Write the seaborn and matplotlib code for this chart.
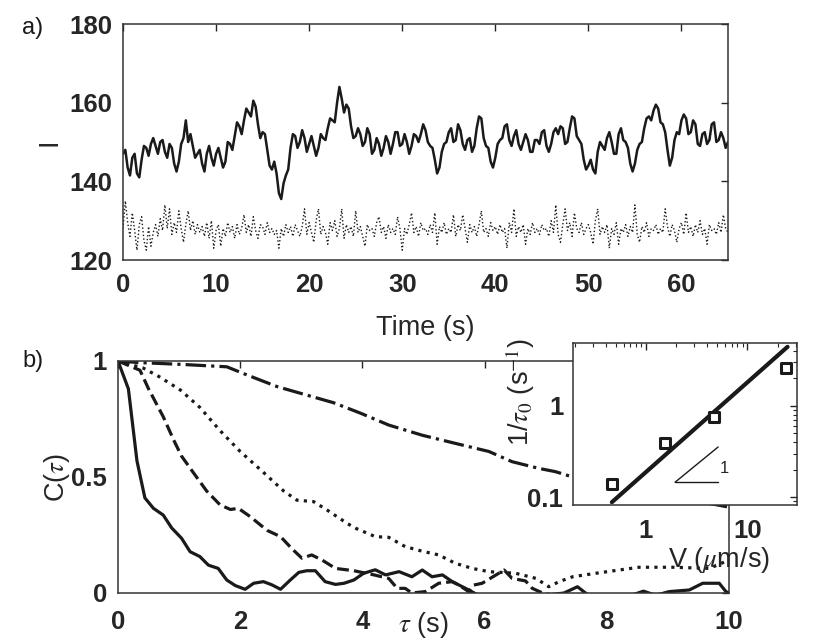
import numpy as np
import pandas as pd
import matplotlib
matplotlib.use('Agg')
import matplotlib.pyplot as plt
import seaborn as sns
from matplotlib.ticker import LogLocator, FuncFormatter, NullFormatter, FixedLocator

# ---- panel a: intensity traces (0.25 s sampling) ----
i_solid = [
    147, 148, 143.5, 141.5, 146, 147, 142, 141, 145.5, 149,
    148.5, 146.5, 149.5, 151, 149, 147, 150, 150.5, 147.5, 146,
    149.5, 148.5, 144.5, 142.5, 145, 149.5, 151, 155.5, 150, 152,
    149, 146, 147, 148, 144.5, 142.5, 147, 149, 146, 144,
    147, 148.5, 146, 143.5, 145, 150, 149.5, 148, 151.5, 155,
    154, 152, 155.5, 158.5, 157.5, 156.5, 160.5, 159, 154.5, 151,
    152.5, 152, 148, 144, 143, 145, 142, 137, 135.5, 139.5,
    141.5, 143, 148.5, 152, 151.5, 148.5, 150, 153, 151, 147.5,
    149.5, 151.5, 149, 146.5, 148.5, 152, 151, 150.5, 153.5, 156,
    155.5, 155, 160, 164, 161, 157.5, 159.5, 158.5, 154, 151,
    151.5, 153.5, 152, 149, 150, 153.5, 152, 147, 148, 151,
    149.5, 146.5, 148.5, 151.5, 150, 147, 149.5, 152.5, 152.5, 149,
    149.5, 152, 150, 147, 149, 152, 151.5, 150, 152, 154.5,
    153, 150, 149, 148.5, 145.5, 142, 143.5, 147.5, 149.5, 150,
    152.5, 153.5, 150, 150.5, 154.5, 153, 149.5, 148, 150.5, 151,
    147.5, 149, 153.5, 156.5, 156, 151, 149, 148.5, 145, 143.5,
    146, 149.5, 150.5, 151, 154, 154.5, 150.5, 149, 151.5, 153,
    149.5, 148, 150, 152, 150.5, 147.5, 147.5, 150.5, 150.5, 149.5,
    152.5, 153, 149, 147.5, 149.5, 152.5, 153.5, 152, 154, 153.5,
    149.5, 150, 153.5, 156.5, 156, 151.5, 150.5, 149.5, 145.5, 143,
    144, 145.5, 143, 142, 147.5, 150, 149, 148, 151, 152.5,
    150, 147, 147, 152, 153.5, 150.5, 150, 148.5, 144.5, 142.5,
    144.5, 148, 149.5, 150, 153.5, 156, 156.5, 155.5, 158, 159.5,
    158.5, 155, 154.5, 152.5, 148, 144, 146, 150.5, 152.5, 152,
    155.5, 157, 156, 152, 152.5, 155.5, 154.5, 149.5, 149, 152,
    152.5, 149.5, 150.5, 154.5, 155, 150, 150.5, 152.5, 151, 148.5,
    150,
]
i_dotted = [
    128, 135, 129.5, 126, 132, 127.5, 122.5, 129, 131, 125,
    122.5, 128.5, 123.5, 127, 129, 126, 130.5, 127.5, 134, 128,
    133, 126.5, 129.5, 127, 132.5, 128, 124.5, 129, 132.5, 127.5,
    130, 126.5, 129, 127, 128.5, 126, 129.5, 125.5, 130, 123,
    127.5, 129, 123.5, 128, 126, 129.5, 127, 128.5, 125.5, 129,
    126.5, 128, 131.5, 127, 129, 126, 131, 127.5, 125.5, 129,
    128.5, 126.5, 129.5, 127, 128, 126.5, 127.5, 123, 128, 126,
    129, 127, 128.5, 126, 129, 127.5, 126, 128.5, 133, 126.5,
    129.5, 127, 124.5, 130, 133, 126.5, 128.5, 127, 124, 129.5,
    127.5, 130, 126, 128, 133, 125.5, 129, 127, 128.5, 126,
    132.5, 127, 128.5, 126, 123.5, 129, 127.5, 128, 126, 129.5,
    131, 127, 128.5, 125.5, 129, 127, 128, 126.5, 131, 128,
    122.5, 128, 126.5, 129, 132, 127, 128.5, 126, 129.5, 127.5,
    128, 126.5, 129, 127, 132, 124, 128.5, 127, 129.5, 126.5,
    128, 127, 131.5, 126, 129, 127.5, 131.5, 128, 124.5, 129,
    127, 128.5, 126, 129, 132.5, 127, 128, 126, 129.5, 127.5,
    128.5, 126.5, 129, 127, 128, 123, 129.5, 127, 133, 126,
    128.5, 127, 129, 124, 128, 126.5, 129.5, 127, 128, 126.5,
    129, 127.5, 128, 126, 130, 127, 134, 126.5, 124.5, 129,
    133, 127.5, 129.5, 126, 132, 128, 127, 129.5, 126.5, 128,
    129, 127, 124, 130, 133, 126.5, 128.5, 127, 129, 123,
    128, 126.5, 129.5, 124, 128, 127, 129, 126, 128.5, 127,
    134, 126.5, 124.5, 128.5, 127, 129.5, 126, 128, 127.5, 129,
    126.5, 128, 127, 133, 128.5, 126, 129, 127.5, 124.5, 128,
    129.5, 126.5, 132, 127, 128.5, 126, 129, 127, 130, 126.5,
    128, 124, 129, 127.5, 128, 126.5, 129.5, 127, 131.5, 128,
    127,
]
t_a = np.linspace(0, 65, len(i_solid))

# ---- panel b: correlation functions ----
tau_solid = [0, 0.17, 0.31, 0.44, 0.58, 0.74, 0.88, 1.04, 1.18, 1.34, 1.48, 1.64, 1.78,
             1.92, 2.08, 2.22, 2.38, 2.52, 2.66, 2.82, 2.96, 3.09, 3.23, 3.39, 3.56, 3.7,
             3.86, 4.02, 4.21, 4.38, 4.6, 4.81, 4.98, 5.14, 5.31, 5.47, 5.69, 5.9, 6.2,
             6.6, 7.0, 7.3, 7.52, 7.7, 8.0, 8.4, 8.6, 8.8, 9.02, 9.35, 9.57, 9.84, 9.95, 10.0]
c_solid = [1, 0.88, 0.57, 0.41, 0.365, 0.336, 0.28, 0.236, 0.178, 0.157, 0.12, 0.106, 0.056,
           0.032, 0.016, 0.042, 0.049, 0.035, 0.016, 0.056, 0.089, 0.096, 0.096, 0.049, 0.037,
           0.042, 0.056, 0.085, 0.1, 0.078, 0.092, 0.07, 0.099, 0.07, 0.078, 0.049, 0.02,
           -0.01, -0.02, -0.02, -0.01, 0.0, 0.027, -0.01, -0.02, -0.01, 0.008, -0.01, 0.006,
           0.013, 0.042, 0.042, 0.006, 0.0]

tau_dash = [0, 0.36, 0.5, 0.74, 0.91, 1.04, 1.23, 1.45, 1.67, 1.84, 1.97, 2.16, 2.44, 2.66,
            2.85, 3.01, 3.17, 3.34, 3.56, 3.86, 4.19, 4.43, 4.57, 4.7, 4.81, 5.03, 5.25,
            5.47, 5.58, 5.74, 5.82, 5.96, 6.32, 6.45, 6.67, 6.78, 6.95, 7.3, 8.0, 9.0, 10.0]
c_dash = [1, 0.96, 0.88, 0.76, 0.66, 0.59, 0.52, 0.44, 0.38, 0.36, 0.365, 0.33, 0.27, 0.243,
          0.19, 0.15, 0.164, 0.142, 0.106, 0.096, 0.078, 0.063, 0.02, 0.02, 0.0, 0.006, 0.042,
          0.049, 0.034, 0.006, 0.034, 0.042, 0.099, 0.063, 0.052, 0.02, 0.0, -0.02, -0.02,
          -0.02, -0.02]

tau_dot = [0, 0.41, 0.69, 1.02, 1.34, 1.67, 2.0, 2.38, 2.71, 2.93, 3.2, 3.42, 3.75, 3.89,
           4.21, 4.43, 4.7, 4.98, 5.25, 5.52, 5.8, 6.07, 6.51, 6.84, 7.05, 7.22, 7.44, 7.82,
           8.2, 8.53, 9.08, 9.68, 10.0]
c_dot = [1, 0.97, 0.93, 0.875, 0.8, 0.70, 0.61, 0.52, 0.44, 0.40, 0.394, 0.358, 0.30, 0.279,
         0.243, 0.24, 0.2, 0.18, 0.164, 0.128, 0.106, 0.092, 0.085, 0.063, 0.027, 0.049, 0.07,
         0.085, 0.099, 0.111, 0.111, 0.106, 0.142]

tau_dashdot = [0, 0.36, 1.07, 1.78, 2.11, 2.6, 3.09, 3.53, 3.97, 4.43, 4.98, 5.52, 6.07,
               6.45, 6.89, 7.16, 7.44, 8.0, 9.0, 10.0]
c_dashdot = [1, 0.993, 0.985, 0.975, 0.94, 0.89, 0.853, 0.82, 0.775, 0.724, 0.68, 0.645,
             0.61, 0.566, 0.537, 0.523, 0.50, 0.47, 0.42, 0.37]

# ---- inset: relaxation rate vs velocity ----
v_pts = [0.46, 1.54, 4.7, 24.3]
rate_pts = [0.139, 0.39, 0.76, 2.6]
v_fit = [0.46, 25]
rate_fit = [0.088, 4.45]

sns.set_theme(style='white')
plt.rcParams['font.family'] = ['Liberation Sans', 'DejaVu Sans']
plt.rcParams['mathtext.fontset'] = 'stix'
plt.rcParams['axes.edgecolor'] = '#333333'
plt.rcParams['axes.linewidth'] = 1.1

gray = '#262626'
tick_fs = 18.5
lab_fs = 19.5


def bold_ticks(ax):
    for lab in ax.get_xticklabels() + ax.get_yticklabels():
        lab.set_fontweight('bold')


fig = plt.figure(figsize=(8.3, 6.4), dpi=100)
ax_a = fig.add_axes([123 / 830, 1 - 260 / 640, 605 / 830, 236 / 640])
ax_b = fig.add_axes([118 / 830, 1 - 593 / 640, 611 / 830, 232 / 640])
ins = fig.add_axes([573 / 830, 1 - 505 / 640, 224 / 830, 162 / 640])

# panel a
sns.lineplot(x=t_a, y=i_solid, ax=ax_a, color='k', lw=1.8, estimator=None)
sns.lineplot(x=t_a, y=i_dotted, ax=ax_a, color='k', lw=1.0, linestyle=':', estimator=None)
ax_a.set_xlim(0, 65)
ax_a.set_ylim(120, 180)
ax_a.set_xticks([0, 10, 20, 30, 40, 50, 60])
ax_a.set_yticks([120, 140, 160, 180])
ax_a.tick_params(direction='in', top=True, right=True, length=5, width=1,
                 labelsize=tick_fs, labelcolor=gray, color=gray)
ax_a.tick_params(axis='x', pad=9)
ax_a.tick_params(axis='y', pad=8)
bold_ticks(ax_a)
ax_a.set_xlabel('Time (s)', fontsize=lab_fs, color=gray)
ax_a.set_ylabel('I', fontsize=lab_fs, color=gray)
ax_a.xaxis.set_label_coords(0.5, -0.235)
ax_a.yaxis.set_label_coords(-0.10, 0.5)

# panel b
lw_b = 2.3
sns.lineplot(x=tau_solid, y=c_solid, ax=ax_b, color='k', lw=lw_b, estimator=None)
sns.lineplot(x=tau_dash, y=c_dash, ax=ax_b, color='k', lw=lw_b, linestyle='--', estimator=None)
sns.lineplot(x=tau_dot, y=c_dot, ax=ax_b, color='k', lw=lw_b, linestyle=':', estimator=None)
sns.lineplot(x=tau_dashdot, y=c_dashdot, ax=ax_b, color='k', lw=lw_b, linestyle='-.', estimator=None)
ax_b.set_xlim(0, 10)
ax_b.set_ylim(0, 1)
ax_b.set_xticks([0, 2, 4, 6, 8, 10])
ax_b.set_yticks([0, 0.5, 1])
ax_b.set_yticklabels(['0', '0.5', '1'])
ax_b.tick_params(direction='in', top=True, right=True, length=5, width=1,
                 labelsize=tick_fs, labelcolor=gray, color=gray)
ax_b.tick_params(axis='x', pad=12)
ax_b.tick_params(axis='y', pad=8)
bold_ticks(ax_b)
ax_b.set_xlabel(r'$\tau$ (s)', fontsize=lab_fs, color=gray)
ax_b.set_ylabel(r'C($\tau$)', fontsize=lab_fs, color=gray)
ax_b.xaxis.set_label_coords(0.5, -0.075)
ax_b.yaxis.set_label_coords(-0.075, 0.5)

# inset
ins.set_xscale('log')
ins.set_yscale('log')
sns.lineplot(x=v_fit, y=rate_fit, ax=ins, color='k', lw=3.0, estimator=None)
sns.scatterplot(x=v_pts, y=rate_pts, ax=ins, marker='s', s=55, facecolor='white',
                edgecolor='k', linewidth=2.2, zorder=5)
ins.plot([1.94, 5.16], [0.146, 0.146], color='k', lw=1.0)
ins.plot([1.94, 5.16], [0.146, 0.355], color='k', lw=1.0)
ins.text(5.3, 0.205, '1', fontsize=12, color=gray, ha='left', va='center')
ins.set_xlim(0.19, 31)
ins.set_ylim(0.082, 4.9)
ins.xaxis.set_major_locator(FixedLocator([1, 10]))
ins.yaxis.set_major_locator(FixedLocator([0.1, 1]))
ins.xaxis.set_minor_locator(LogLocator(base=10, subs=np.arange(2, 10) * 1.0))
ins.yaxis.set_minor_locator(LogLocator(base=10, subs=np.arange(2, 10) * 1.0))
fmt = FuncFormatter(lambda v, p: '%g' % v)
ins.xaxis.set_major_formatter(fmt)
ins.yaxis.set_major_formatter(fmt)
ins.xaxis.set_minor_formatter(NullFormatter())
ins.yaxis.set_minor_formatter(NullFormatter())
ins.tick_params(which='both', direction='in', top=True, right=True, color=gray,
                labelsize=tick_fs, labelcolor=gray)
ins.tick_params(which='major', length=5, width=1)
ins.tick_params(which='minor', length=3, width=0.8)
ins.tick_params(axis='x', which='major', pad=10)
ins.tick_params(axis='y', which='major', pad=7)
bold_ticks(ins)
ins.set_ylabel(r'1/$\tau_0$ (s$^{-1}$)', fontsize=lab_fs, color=gray)
ins.yaxis.set_label_coords(-0.16, 0.70)
ins.text(0.652, -0.34, r'V ($\mu$m/s)', transform=ins.transAxes, fontsize=lab_fs,
         color=gray, ha='center', va='center')
ins.set_facecolor('white')

fig.text(22 / 830, 1 - 28 / 640, 'a)', fontsize=17, color='k', ha='left', va='center')
fig.text(22 / 830, 1 - 361 / 640, 'b)', fontsize=17, color='k', ha='left', va='center')

fig.savefig('out.png', dpi=100)
